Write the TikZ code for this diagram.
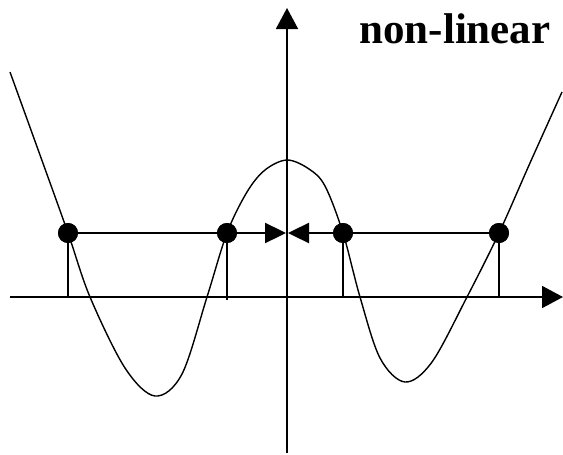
\documentclass[tikz,border=0pt]{standalone}
\usepackage{fontspec}
\setmainfont{Liberation Serif}
\usetikzlibrary{arrows.meta}
\begin{document}
\begin{tikzpicture}[x=1pt,y=-1pt,
  dot/.style={circle,fill=black,inner sep=0pt,minimum size=20pt},
  axis/.style={line width=1.8pt,-{Triangle[length=21pt,width=22pt]}},
  thin/.style={line width=1.5pt},
  push/.style={line width=2.4pt,-{Triangle[length=21pt,width=20pt]},shorten <=-2pt},
  curve/.style={line width=1.4pt}]
\useasboundingbox (0,0) rectangle (563,455);
% axes
\coordinate (xl) at (10,297);
\coordinate (xr) at (563,297);
\coordinate (yb) at (287,453);
\coordinate (yt) at (287,8);
\draw[axis] (xl) -- (xr);
\draw[axis] (yb) -- (yt);
% curve
\draw[curve] plot[smooth,tension=0.55] coordinates {
 (10,72) (40,155) (68,233) (90,297) (125,368) (155,396) (182,374) (207,297)
 (227,233) (247,192) (265,170) (287,160) (309,169) (325,186) (343,233)
 (360,297) (380,358) (405,382) (432,362) (467,297) (499,233) (530,163) (562,92)};
% dots
\node[dot] (d1) at (68,233) {};
\node[dot] (d2) at (227,233) {};
\node[dot] (d3) at (343,233) {};
\node[dot] (d4) at (499,233) {};
\coordinate (ca) at (286,233);
\coordinate (cb) at (288,233);
% horizontal lines
\draw[thin] (d1) -- (d2);
\draw[thin] (d3) -- (d4);
\draw[push] (d2) -- (ca);
\draw[push] (d3) -- (cb);
% drops
\draw[thin] (d1.center) -- (d1 |- xl);
\draw[thin] (d2.center) -- ([yshift=-3pt]d2 |- xl);
\draw[thin] (d3.center) -- (d3 |- xl);
\draw[thin] (d4.center) -- (d4 |- xl);
\node[dot] at (d1) {};
\node[dot] at (d2) {};
\node[dot] at (d3) {};
\node[dot] at (d4) {};
% label
\node[anchor=base,font=\bfseries\fontsize{43}{43}\selectfont,inner sep=0pt] (lbl) at (455,43) {non-linear};
\end{tikzpicture}
\end{document}
